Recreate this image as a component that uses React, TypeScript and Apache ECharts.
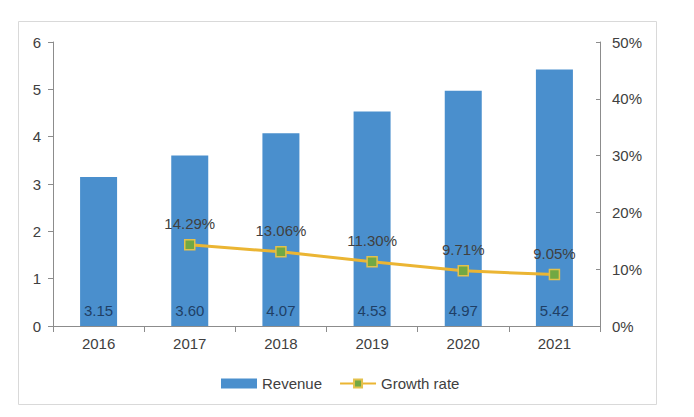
import React, { useEffect, useRef } from "react";
import * as echarts from "echarts";

const years = ["2016", "2017", "2018", "2019", "2020", "2021"];
const revenue = [3.15, 3.6, 4.07, 4.53, 4.97, 5.42];
const growthRate = [null, 14.29, 13.06, 11.3, 9.71, 9.05];
const leftTicks = { min: 0, max: 6, interval: 1 };
const rightTicks = { min: 0, max: 50, interval: 10 };

const FONT = "'Liberation Sans', Arial, sans-serif";
const TEXT = "#404040";
const AXIS = "#8c8c8c";

export default function App() {
  const ref = useRef<HTMLDivElement>(null);
  useEffect(() => {
    if (!ref.current) return;
    const chart = echarts.init(ref.current, null, { renderer: "svg" });
    chart.setOption({
      animation: false,
      backgroundColor: "#ffffff",
      textStyle: { fontFamily: FONT },
      graphic: [
        {
          type: "rect",
          shape: { x: 18.5, y: 21.5, width: 638, height: 383 },
          style: { fill: "none", stroke: "#d9d9d9", lineWidth: 1 },
          silent: true,
        },
      ],
      grid: { left: 53, right: 94, top: 42, bottom: 91 },
      legend: {
        left: 216,
        top: 371,
        itemWidth: 36,
        itemHeight: 10,
        itemGap: 17,
        textStyle: { fontSize: 15, color: TEXT, fontFamily: FONT },
        data: [
          { name: "Revenue", icon: "rect" },
          { name: "Growth rate" },
        ],
      },
      xAxis: {
        type: "category",
        data: years,
        axisLine: { lineStyle: { color: AXIS, width: 1 } },
        axisTick: { show: true, length: 6, lineStyle: { color: AXIS } },
        axisLabel: { fontSize: 15, color: TEXT, margin: 10, fontFamily: FONT },
      },
      yAxis: [
        {
          type: "value",
          ...leftTicks,
          axisLine: { show: true, lineStyle: { color: AXIS, width: 1 } },
          axisTick: { show: true, length: 5, lineStyle: { color: AXIS } },
          splitLine: { show: false },
          axisLabel: { fontSize: 15, color: TEXT, margin: 12, fontFamily: FONT },
        },
        {
          type: "value",
          ...rightTicks,
          position: "right",
          axisLine: { show: true, lineStyle: { color: AXIS, width: 1 } },
          axisTick: { show: true, inside: true, length: 4, lineStyle: { color: AXIS } },
          splitLine: { show: false },
          axisLabel: {
            fontSize: 15,
            color: TEXT,
            margin: 12,
            fontFamily: FONT,
            formatter: "{value}%",
          },
        },
      ],
      series: [
        {
          name: "Revenue",
          type: "bar",
          data: revenue,
          barWidth: 37,
          itemStyle: { color: "#4a8fcd" },
          label: {
            show: true,
            position: "insideBottom",
            distance: 8,
            fontSize: 15,
            color: "#1f3f66",
            fontFamily: FONT,
            formatter: (p: any) => Number(p.value).toFixed(2),
          },
        },
        {
          name: "Growth rate",
          type: "line",
          yAxisIndex: 1,
          data: growthRate,
          symbol: "rect",
          symbolSize: 10,
          lineStyle: { color: "#ebb533", width: 3 },
          itemStyle: { color: "#72a843", borderColor: "#e3c14c", borderWidth: 1.5 },
          label: {
            show: true,
            position: "top",
            distance: 8,
            fontSize: 15,
            color: TEXT,
            fontFamily: FONT,
            formatter: (p: any) => Number(p.value).toFixed(2) + "%",
          },
          z: 5,
        },
      ],
    });
    return () => chart.dispose();
  }, []);
  return <div ref={ref} style={{ width: 694, height: 417, position: "absolute", left: 0, top: 0 }} />;
}
